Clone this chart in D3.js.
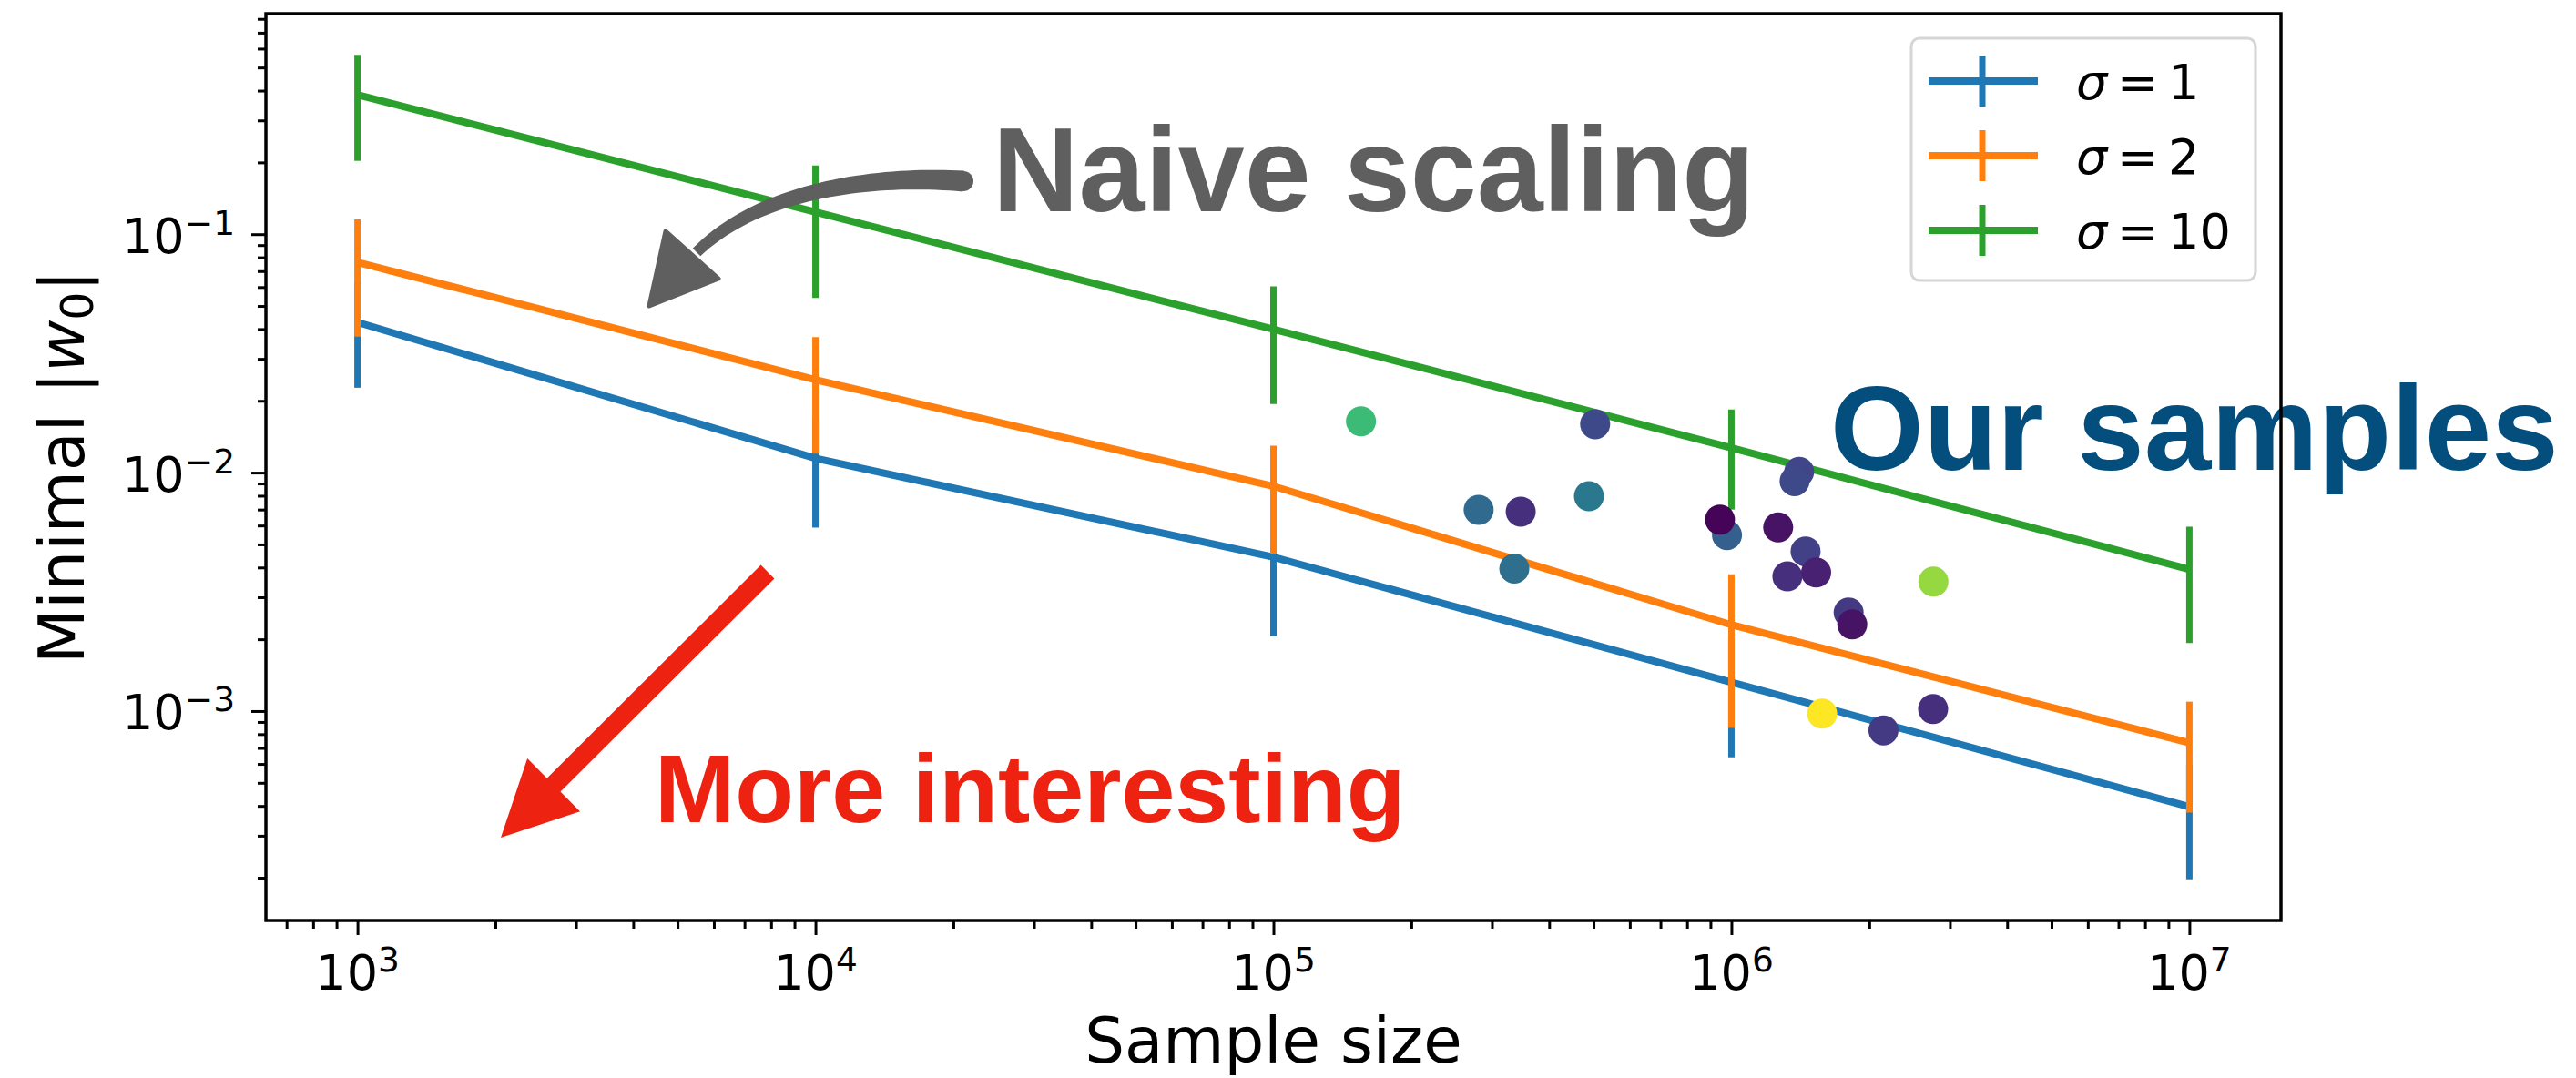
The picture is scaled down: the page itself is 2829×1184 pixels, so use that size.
<!DOCTYPE html>
<html>
<head>
    <meta charset="utf-8">
    <title>Minimal |w0| vs sample size</title>
    <script src="https://d3js.org/d3.v7.min.js"></script>
    <style>
        html, body {
            margin: 0;
            background: white;
            overflow: hidden;
        }
        .tick text {
            font-family: "DejaVu Sans", sans-serif;
        }
    </style>
</head>
<body>
    <svg id="svg"></svg>
    <script>
        // data
        const sampleSizes = [1e3, 1e4, 1e5, 1e6, 1e7];

        const sigma1 = [0.0427, 0.01148, 0.00442, 0.00132, 0.000397];
        const sigma1Err = [0.020, 0.0056, 0.00236, 0.00068, 0.0002];
        const sigma2 = [0.0762, 0.0245, 0.00877, 0.0023, 0.000735];
        const sigma2Err = [0.039, 0.0125, 0.0042, 0.00145, 0.00036];
        const sigma10 = [0.384, 0.124, 0.0399, 0.0127, 0.00393];
        const sigma10Err = [0.181, 0.07, 0.0205, 0.0057, 0.002];

        const seriesNames = ["σ", "σ", "σ"];
        const seriesLabels = ["1", "2", "10"];
        const seriesColors = ["#1f77b4", "#ff7f0e", "#2ca02c"];

        // our samples: sample size, minimal |w0|, colour value (viridis)
        const sampleX = [1.553e5, 5.04e5, 2.806e5, 3.467e5, 4.886e5, 3.357e5, 1.406e6, 1.374e6, 9.78e5, 9.44e5,
                         1.265e6, 1.452e6, 1.325e6, 1.531e6, 2.761e6, 1.803e6, 1.836e6, 1.578e6, 2.148e6, 2.757e6];
        const sampleY = [0.01641, 0.01596, 0.00698, 0.00686, 0.00796, 0.00396, 0.01007, 0.00921, 0.00547, 0.00635,
                         0.00589, 0.00467, 0.00367, 0.00381, 0.00349, 0.00259, 0.00231, 0.000975, 0.00083, 0.00102];
        const sampleC = [0.68, 0.22, 0.34, 0.14, 0.40, 0.36, 0.21, 0.22, 0.30, 0.01,
                         0.05, 0.19, 0.14, 0.09, 0.84, 0.17, 0.05, 1.0, 0.17, 0.14];

        const xMajor = [1e3, 1e4, 1e5, 1e6, 1e7];
        const xMajorExp = ["3", "4", "5", "6", "7"];
        const yMajor = [1e-3, 1e-2, 1e-1];
        const yMajorExp = ["\u22123", "\u22122", "\u22121"];

        const width = 2829;
        const height = 1184;
        const margins = {top: 15, left: 292, right: 324, bottom: 173};
        const graphWidth = width - margins.left - margins.right;
        const graphHeight = height - margins.top - margins.bottom;

        const svg = d3.select("#svg")
            .attr("width", width)
            .attr("height", height);

        const series = [
            {values: sigma1, err: sigma1Err},
            {values: sigma2, err: sigma2Err},
            {values: sigma10, err: sigma10Err}
        ].map((s, i) => ({
            ...s,
            name: seriesNames[i],
            label: seriesLabels[i],
            color: seriesColors[i],
            points: sampleSizes.map((x, j) => ({x, y: s.values[j], lo: s.values[j] - s.err[j], hi: s.values[j] + s.err[j]}))
        }));

        // matplotlib-like 5% margins in log space
        function logPad([a, b]) {
            const la = Math.log10(a), lb = Math.log10(b);
            const p = (lb - la) * 0.05;
            return [Math.pow(10, la - p), Math.pow(10, lb + p)];
        }

        const xDomain = logPad(d3.extent(sampleSizes));
        const allY = series.flatMap(s => s.points.flatMap(p => [p.lo, p.hi]));
        const yDomain = logPad(d3.extent(allY));

        const scaleX = d3.scaleLog().domain(xDomain).range([0, graphWidth]);
        const scaleY = d3.scaleLog().domain(yDomain).range([graphHeight, 0]);

        function minorTicks(domain) {
            const out = [];
            for (let k = Math.floor(Math.log10(domain[0])); k <= Math.ceil(Math.log10(domain[1])); k++) {
                for (let m = 2; m <= 9; m++) {
                    const v = m * Math.pow(10, k);
                    if (v >= domain[0] && v <= domain[1]) out.push(v);
                }
            }
            return out;
        }

        const plot = svg.append("g")
            .attr("transform", `translate(${margins.left}, ${margins.top})`);

        // error bars + lines
        series.forEach(s => {
            const g = plot.append("g");
            g.selectAll("line.err")
                .data(s.points)
                .enter()
                .append("line")
                .attr("class", "err")
                .attr("x1", d => scaleX(d.x))
                .attr("x2", d => scaleX(d.x))
                .attr("y1", d => scaleY(d.lo))
                .attr("y2", d => scaleY(d.hi))
                .attr("stroke", s.color)
                .attr("stroke-width", 7);

            const line = d3.line()
                .x(d => scaleX(d.x))
                .y(d => scaleY(d.y));

            g.append("path")
                .attr("d", line(s.points))
                .attr("fill", "none")
                .attr("stroke", s.color)
                .attr("stroke-width", 8);
        });

        // scatter of our samples
        const samples = sampleX.map((x, i) => ({x, y: sampleY[i], c: sampleC[i]}));
        plot.append("g")
            .selectAll("circle")
            .data(samples)
            .enter()
            .append("circle")
            .attr("cx", d => scaleX(d.x))
            .attr("cy", d => scaleY(d.y))
            .attr("r", 16.5)
            .attr("fill", d => d3.interpolateViridis(d.c));

        // gray brush arrow ("Naive scaling")
        const gray = "#5f5f5f";
        const P = [[1058, 199], [960, 192], [835, 208], [765, 277]];
        function bez(t, k) {
            const u = 1 - t;
            return u * u * u * P[0][k] + 3 * u * u * t * P[1][k] + 3 * u * t * t * P[2][k] + t * t * t * P[3][k];
        }
        function dbez(t, k) {
            const u = 1 - t;
            return 3 * u * u * (P[1][k] - P[0][k]) + 6 * u * t * (P[2][k] - P[1][k]) + 3 * t * t * (P[3][k] - P[2][k]);
        }
        const left = [], right = [];
        d3.range(0, 1.0001, 0.025).forEach(t => {
            const x = bez(t, 0), y = bez(t, 1);
            const dx = dbez(t, 0), dy = dbez(t, 1);
            const len = Math.hypot(dx, dy);
            const nx = -dy / len, ny = dx / len;
            const w = 11.5 - 5.5 * t;
            left.push([x + nx * w, y + ny * w]);
            right.push([x - nx * w, y - ny * w]);
        });
        svg.append("path")
            .attr("d", d3.line()(left.concat(right.reverse())) + "Z")
            .attr("fill", gray);
        svg.append("circle")
            .attr("cx", P[0][0]).attr("cy", P[0][1]).attr("r", 11)
            .attr("fill", gray);
        svg.append("path")
            .attr("d", d3.line()([[731, 254], [789, 306], [713, 336]]) + "Z")
            .attr("fill", gray)
            .attr("stroke", gray)
            .attr("stroke-width", 5)
            .attr("stroke-linejoin", "round");

        // red arrow ("More interesting")
        const red = "#ee2211";
        const tail = [843, 628], tip = [550, 920];
        const L = Math.hypot(tip[0] - tail[0], tip[1] - tail[1]);
        const ang = Math.atan2(tip[1] - tail[1], tip[0] - tail[0]) * 180 / Math.PI;
        svg.append("path")
            .attr("transform", `translate(${tail[0]}, ${tail[1]}) rotate(${ang})`)
            .attr("d", d3.line()([[0, -10.5], [L - 82, -10.5], [L - 82, -41], [L, 0], [L - 82, 41], [L - 82, 10.5], [0, 10.5]]) + "Z")
            .attr("fill", red);

        // annotation texts
        const boldFont = "'Liberation Sans', Arial, Helvetica, sans-serif";
        svg.append("text")
            .attr("x", 1090).attr("y", 232)
            .style("font-family", boldFont)
            .style("font-weight", "bold")
            .style("font-size", "131px")
            .attr("fill", gray)
            .text("Naive scaling");

        svg.append("text")
            .attr("x", 719).attr("y", 903)
            .style("font-family", boldFont)
            .style("font-weight", "bold")
            .style("font-size", "106px")
            .attr("fill", red)
            .text("More interesting");

        svg.append("text")
            .attr("x", 2010).attr("y", 516)
            .style("font-family", boldFont)
            .style("font-weight", "bold")
            .style("font-size", "132px")
            .attr("fill", "#044e7e")
            .text("Our samples");

        // axes
        const tickFont = "'DejaVu Sans', sans-serif";
        const xAxisGroup = svg.append("g")
            .attr("transform", `translate(${margins.left}, ${margins.top + graphHeight})`);
        xAxisGroup.append("g")
            .call(d3.axisBottom(scaleX).tickValues(minorTicks(xDomain)).tickSize(9).tickFormat(""));
        xAxisGroup.append("g")
            .call(d3.axisBottom(scaleX).tickValues(xMajor).tickSize(16).tickFormat(""));

        const yAxisGroup = svg.append("g")
            .attr("transform", `translate(${margins.left}, ${margins.top})`);
        yAxisGroup.append("g")
            .call(d3.axisLeft(scaleY).tickValues(minorTicks(yDomain)).tickSize(9).tickFormat(""));
        yAxisGroup.append("g")
            .call(d3.axisLeft(scaleY).tickValues(yMajor).tickSize(16).tickFormat(""));

        svg.selectAll(".domain").remove();
        svg.selectAll(".tick line").attr("stroke", "black").attr("stroke-width", 3);

        const xLabels = xAxisGroup.selectAll("text.lbl")
            .data(xMajor)
            .enter()
            .append("text")
            .attr("class", "lbl")
            .attr("x", d => scaleX(d))
            .attr("y", 76)
            .attr("text-anchor", "middle")
            .style("font-family", tickFont)
            .style("font-size", "54px")
            .text("10");
        xLabels.append("tspan")
            .attr("dy", -20)
            .style("font-size", "37.5px")
            .text((d, i) => xMajorExp[i]);

        const yLabels = yAxisGroup.selectAll("text.lbl")
            .data(yMajor)
            .enter()
            .append("text")
            .attr("class", "lbl")
            .attr("x", -34)
            .attr("y", d => scaleY(d) + 20.5)
            .attr("text-anchor", "end")
            .style("font-family", tickFont)
            .style("font-size", "54px")
            .text("10");
        yLabels.append("tspan")
            .attr("dy", -20)
            .style("font-size", "37.5px")
            .text((d, i) => yMajorExp[i]);

        // axis titles
        svg.append("text")
            .attr("x", margins.left + graphWidth / 2)
            .attr("y", 1167)
            .attr("text-anchor", "middle")
            .style("font-family", tickFont)
            .style("font-size", "69px")
            .text("Sample size");

        const yTitle = svg.append("text")
            .attr("transform", `translate(92, ${margins.top + graphHeight / 2}) rotate(-90)`)
            .attr("text-anchor", "middle")
            .style("font-family", tickFont)
            .style("font-size", "70px");
        yTitle.append("tspan").text("Minimal |");
        yTitle.append("tspan").style("font-style", "italic").text("w");
        yTitle.append("tspan").attr("dy", 10).style("font-size", "49px").text("0");
        yTitle.append("tspan").attr("dy", -10).text("|");

        // legend
        const legend = svg.append("g");
        legend.append("rect")
            .attr("x", 2099).attr("y", 42)
            .attr("width", 378).attr("height", 266)
            .attr("rx", 9)
            .attr("fill", "white")
            .attr("fill-opacity", 0.8)
            .attr("stroke", "#d6d6d6")
            .attr("stroke-width", 3);

        const items = legend.selectAll("g.item")
            .data(series)
            .enter()
            .append("g")
            .attr("class", "item")
            .attr("transform", (d, i) => `translate(2118, ${89 + i * 82})`);
        items.append("line")
            .attr("x1", 0).attr("x2", 120)
            .attr("stroke", d => d.color).attr("stroke-width", 8);
        items.append("line")
            .attr("x1", 59).attr("x2", 59)
            .attr("y1", -28).attr("y2", 28)
            .attr("stroke", d => d.color).attr("stroke-width", 7);
        const itemText = items.append("text")
            .attr("x", 162).attr("y", 20)
            .style("font-family", tickFont)
            .style("font-size", "54px");
        itemText.append("tspan").style("font-style", "italic").text(d => d.name);
        itemText.append("tspan").text(d => "\u2009=\u2009" + d.label);

        // frame (spines drawn last, over the annotation text)
        svg.append("rect")
            .attr("x", margins.left).attr("y", margins.top)
            .attr("width", graphWidth).attr("height", graphHeight)
            .attr("fill", "none")
            .attr("stroke", "black")
            .attr("stroke-width", 3.5);
    </script>
</body>
</html>
